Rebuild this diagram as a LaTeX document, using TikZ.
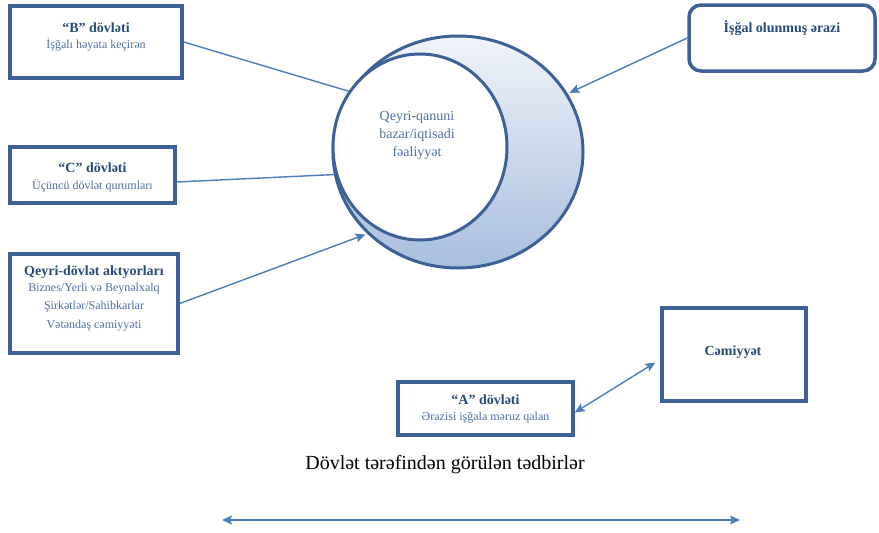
\documentclass[tikz,border=0pt]{standalone}
\usepackage{fontspec}
\setmainfont{Liberation Serif}
\usetikzlibrary{
  shapes.geometric
  , arrows.meta
}
\definecolor{boxline}{HTML}{3B6196}
\definecolor{arrowc}{HTML}{4A7EBB}
\definecolor{ttlc}{HTML}{264A7C}
\definecolor{subc}{HTML}{4E6FA3}
\definecolor{moontop}{HTML}{F0F4FA}
\definecolor{moonbot}{HTML}{A7BEDD}

\begin{document}
\begin{tikzpicture}[x=1pt, y=-1pt,
    box/.style={rectangle, draw=boxline, line width=3.5pt, fill=white, inner sep=0pt},
    ring/.style={ellipse, draw=boxline, line width=3pt, inner sep=0pt},
    ttl/.style={font=\fontsize{14}{16}\selectfont\bfseries, text=ttlc, inner sep=0pt},
    sub/.style={font=\fontsize{12}{18.5}\selectfont, text=subc, inner sep=0pt, align=center},
    link/.style={draw=arrowc, line width=1.4pt},
    tip/.style={-{Stealth[length=10pt, width=9pt, inset=2pt]}},
    bitip/.style={{Stealth[length=10pt, width=9pt, inset=2pt]}-{Stealth[length=10pt, width=9pt, inset=2pt]}}
  ]
  \useasboundingbox (0,0) rectangle (879,533);

  % moon
  \node [ring, top color=moontop, bottom color=moonbot,
    minimum width=250, minimum height=232] (moon) at (458,152) {};
  \node [ring, fill=white,
    minimum width=174, minimum height=186] (core) at (420,147) {};
  \node [font=\fontsize{14}{18}\selectfont, text=subc, align=center,
    inner sep=0pt] (coretxt) at (417,135) {Qeyri-qanuni\\bazar/iqtisadi\\fəaliyyət};

  % left side
  \node [box, minimum width=172, minimum height=72] (bst) at (96,42) {};
  \node [ttl] (bsttl) at (96,28) {“B” dövləti};
  \node [sub] (bstsub) at (96,45) {İşğalı həyata keçirən};

  \node [box, minimum width=165, minimum height=56] (cst) at (92.5,175) {};
  \node [ttl] (csttl) at (92.5,168) {“C” dövləti};
  \node [sub] (cstsub) at (92.5,186) {Üçüncü dövlət qurumları};

  \node [box, minimum width=168, minimum height=99] (nsa) at (94,303.5) {};
  \node [ttl] (nsattl) at (94,272) {Qeyri-dövlət aktyorları};
  \node [sub] (nsasub) at (94,307) {Biznes/Yerli və Beynəlxalq\\Şirkətlər/Sahibkarlar\\Vətəndaş cəmiyyəti};

  % right side
  \node [box, rounded corners=12pt,
    minimum width=186, minimum height=66] (occ) at (782,38) {};
  \node [ttl] (occttl) at (782,28) {İşğal olunmuş ərazi};

  \node [box, minimum width=175, minimum height=53] (ast) at (485.5,408.5) {};
  \node [ttl] (asttl) at (485.5,400) {“A” dövləti};
  \node [sub] (astsub) at (485.5,418) {Ərazisi işğala məruz qalan};

  \node [box, minimum width=144, minimum height=93] (soc) at (734,354.5) {};
  \node [ttl] (socttl) at (733,352) {Cəmiyyət};

  % bottom
  \node [font=\fontsize{20}{24}\selectfont, inner sep=0pt] (acts) at (445,465) {Dövlət tərəfindən görülən tədbirlər};
  \coordinate (actl) at (222,520);
  \coordinate (actr) at (740,520);

  % connectors
  \draw [link] (bst.east) -- (core.142);
  \draw [link] ([yshift=-7pt]cst.east) -- (core.198);
  \draw [link, tip, shorten >=2pt] (nsa.east) -- (moon.222);
  \draw [link, tip, shorten >=2pt] (occ.west) -- (moon.28);
  \draw [link, bitip] ([yshift=-4pt]ast.east) -- ([xshift=-5pt, yshift=-8pt]soc.west);
  \draw [link, bitip] (actl) -- (actr);
\end{tikzpicture}
\end{document}
